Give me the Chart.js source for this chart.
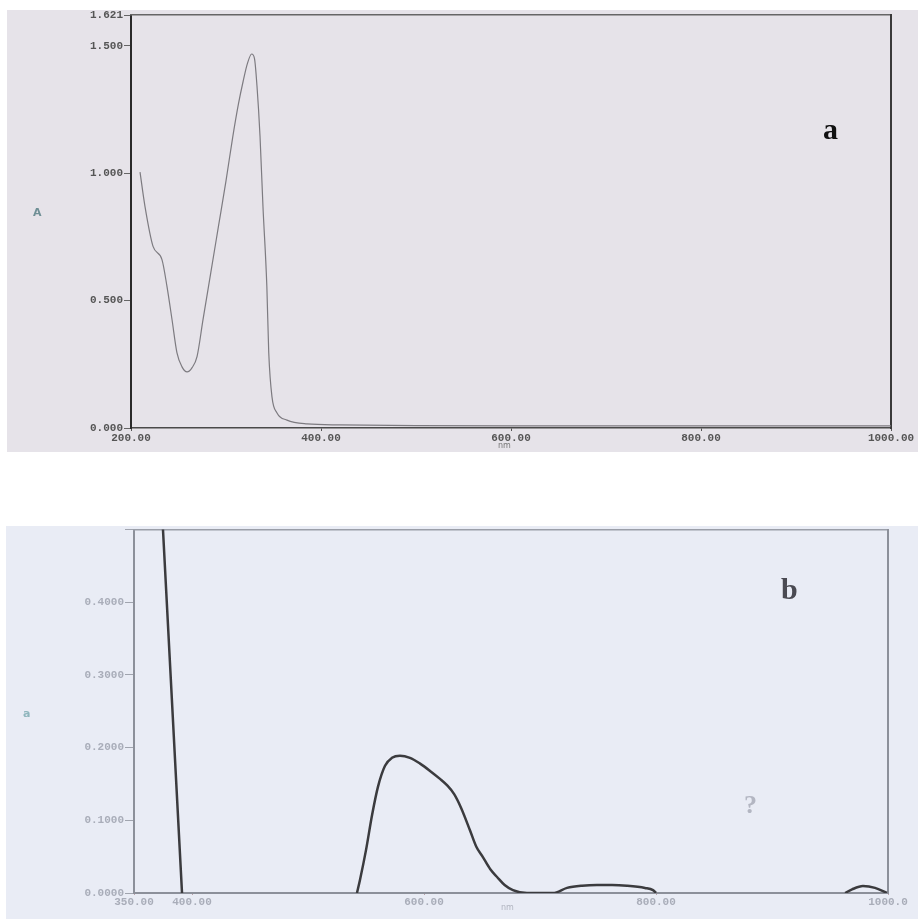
<!DOCTYPE html>
<html>
<head>
<meta charset="utf-8">
<script src="https://cdn.jsdelivr.net/npm/chart.js@4.4.1/dist/chart.umd.min.js"></script>
<style>
body{margin:0;background:#fff;width:918px;height:919px;position:relative;overflow:hidden}
.bg{position:absolute}
.box{position:absolute;left:0;width:918px}
.lbl{position:absolute;white-space:nowrap;line-height:1}
</style>
</head>
<body>
<div class="bg" style="left:7px;top:10px;width:911px;height:442px;background:#e6e3e9"></div>
<div class="bg" style="left:6px;top:526px;width:912px;height:393px;background:#e9ecf5"></div>
<div class="box" style="top:0;height:452px"><canvas id="chartA"></canvas></div>
<div class="box" style="top:522px;height:397px"><canvas id="chartB"></canvas></div>

<div class="lbl" style="left:33px;top:206px;font:bold 11px 'DejaVu Sans';color:#6f8f95">A</div>
<div class="lbl" style="left:498px;top:441px;font:8px 'DejaVu Sans';color:#777">nm</div>
<div class="lbl" style="left:823px;top:112px;font:bold 30px 'Liberation Serif';color:#111">a</div>
<div class="lbl" style="left:23px;top:707px;font:bold 11px 'DejaVu Sans';color:#8fb6bd">a</div>
<div class="lbl" style="left:501px;top:903px;font:8px 'DejaVu Sans';color:#b0b4bf">nm</div>
<div class="lbl" style="left:781px;top:572px;font:bold 30px 'Liberation Serif';color:#4a4a52">b</div>
<div class="lbl" style="left:744px;top:790px;font:bold 26px 'Liberation Serif';color:#b3b6c2">?</div>

<script>
// spectrum a (nm, absorbance)
var waveA = [209.5, 214.7, 223.2, 232.6, 237.9, 243.2, 248.4, 253.7, 259.0, 264.5, 269.5, 275.8, 284.0, 292.0, 300.0, 307.0, 313.0, 318.0, 322.5, 327.0, 330.0, 332.6, 335.8, 338.9, 343.0, 345.0, 348.4, 353.7, 364.2, 385.3, 420, 500, 600, 700, 800, 900, 1000];
var absA = [1.004, 0.870, 0.713, 0.661, 0.555, 0.425, 0.295, 0.240, 0.220, 0.238, 0.280, 0.425, 0.610, 0.790, 0.970, 1.140, 1.270, 1.360, 1.430, 1.468, 1.450, 1.343, 1.146, 0.870, 0.555, 0.295, 0.122, 0.059, 0.031, 0.016, 0.012, 0.009, 0.008, 0.008, 0.008, 0.008, 0.008];

// spectrum b, null = break in trace
var waveB = [374.0, 391.4, 450,
    542.2, 544.8, 550.0, 555.2, 560.3, 566.4, 572.4, 579.3, 587.9, 596.6, 605.2, 613.8, 620.0, 626.0, 632.0, 639.7, 645.0, 650.9, 657.0, 663.0, 669.5, 676.7, 688.8, 711.2, 723.3, 736.2, 749.1, 762.1, 775.0, 790.5, 797.4, 800.0, 900,
    963.0, 969.0, 978.4, 988.8, 999.1];
var absB = [0.53, 0.0, null,
    0.000, 0.018, 0.059, 0.107, 0.146, 0.175, 0.186, 0.189, 0.186, 0.178, 0.168, 0.157, 0.148, 0.136, 0.117, 0.086, 0.064, 0.049, 0.033, 0.022, 0.011, 0.004, 0.000, 0.000, 0.007, 0.010, 0.011, 0.011, 0.010, 0.007, 0.004, 0.000, null,
    0.000, 0.005, 0.0095, 0.007, 0.000];

var xTicksA = [200, 400, 600, 800, 1000];
var yTicksA = [0, 0.5, 1.0, 1.5, 1.621];
var xTicksB = [350, 400, 600, 800, 1000];
var yTicksB = [0, 0.1, 0.2, 0.3, 0.4, 0.5];

function pts(xs, ys) {
    return xs.map(function (x, i) { return { x: x, y: ys[i] }; });
}
function fixTicks(list) {
    return function (scale) { scale.ticks = list.map(function (v) { return { value: v }; }); };
}
function frame(pos, color, w) {
    return {
        type: "linear", position: pos, display: true, min: 0, max: 1,
        ticks: { display: false },
        grid: { drawOnChartArea: false, drawTicks: false },
        border: { display: true, color: color, width: w },
        afterFit: function (s) { if (pos == "top") s.height = 0; else s.width = 0; }
    };
}

var monoFont = { family: "Liberation Mono", size: 11, weight: "bold" };

new Chart(document.getElementById("chartA"), {
    type: "scatter",
    data: { datasets: [{ data: pts(waveA, absA), showLine: true, borderColor: "#7d7b80", borderWidth: 1.2, pointRadius: 0, cubicInterpolationMode: "monotone" }] },
    options: {
        responsive: true, maintainAspectRatio: false, animation: false,
        layout: { padding: { top: 15, right: 27, left: 0, bottom: 0 } },
        plugins: { legend: { display: false }, tooltip: { enabled: false } },
        scales: {
            x: {
                type: "linear", position: "bottom", min: 200, max: 1000,
                afterBuildTicks: fixTicks(xTicksA),
                afterFit: function (s) { s.height = 24; },
                ticks: { callback: function (v) { return v.toFixed(2); }, font: monoFont, color: "#555", padding: 1, maxRotation: 0, autoSkip: false },
                grid: { drawOnChartArea: false, tickLength: 3, color: "#555" },
                border: { color: "#4a4a4a", width: 1.5 }
            },
            y: {
                type: "linear", position: "left", min: 0, max: 1.621,
                afterBuildTicks: fixTicks(yTicksA),
                afterFit: function (s) { s.width = 131; },
                ticks: { callback: function (v) { return v.toFixed(3); }, font: monoFont, color: "#555", padding: 1 },
                grid: { drawOnChartArea: false, tickLength: 7, color: "#666" },
                border: { color: "#2a2a2a", width: 2 }
            },
            x2: frame("top", "#666", 1.5),
            y2: frame("right", "#3a3a3a", 2)
        }
    }
});

new Chart(document.getElementById("chartB"), {
    type: "scatter",
    data: { datasets: [{ data: pts(waveB, absB), showLine: true, spanGaps: false, borderColor: "#3b3b3e", borderWidth: 2.5, pointRadius: 0, cubicInterpolationMode: "monotone" }] },
    options: {
        responsive: true, maintainAspectRatio: false, animation: false,
        layout: { padding: { top: 5, right: 30, left: 0, bottom: 0 } },
        plugins: { legend: { display: false }, tooltip: { enabled: false } },
        scales: {
            x: {
                type: "linear", position: "bottom", min: 350, max: 1000,
                afterBuildTicks: fixTicks(xTicksB),
                afterFit: function (s) { s.height = 26; },
                ticks: { callback: function (v) { return v >= 1000 ? v.toFixed(1) : v.toFixed(2); }, font: monoFont, color: "#a9adb9", padding: 1, maxRotation: 0, autoSkip: false },
                grid: { drawOnChartArea: false, tickLength: 2, color: "#b9a0a8" },
                border: { color: "#8c909a", width: 2 }
            },
            y: {
                type: "linear", position: "left", min: 0, max: 0.5,
                afterBuildTicks: fixTicks(yTicksB),
                afterFit: function (s) { s.width = 134; },
                ticks: { callback: function (v) { return v == 0.5 ? "" : v.toFixed(4); }, font: monoFont, color: "#a9adb9", padding: 1 },
                grid: { drawOnChartArea: false, tickLength: 9, color: "#a0a4ae" },
                border: { color: "#8c909a", width: 2 }
            },
            x2: frame("top", "#9a9ea8", 1.5),
            y2: frame("right", "#8c909a", 2)
        }
    }
});
</script>
</body>
</html>
